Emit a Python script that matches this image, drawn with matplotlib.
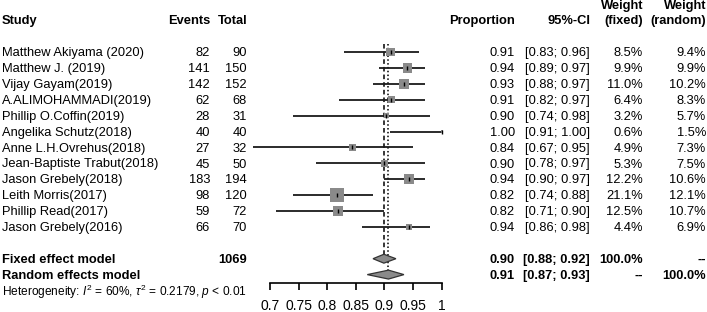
import numpy as np
import matplotlib
matplotlib.use("Agg")
import matplotlib.pyplot as plt
from matplotlib.patches import Polygon

plt.rcParams['font.family'] = ['Liberation Sans', 'DejaVu Sans']
plt.rcParams['mathtext.fontset'] = 'custom'
plt.rcParams['mathtext.rm'] = 'Liberation Sans'
plt.rcParams['mathtext.it'] = 'Liberation Sans:italic'

# data
studies = ["Matthew Akiyama (2020)", "Matthew J. (2019)", "Vijay Gayam(2019)",
           "A.ALIMOHAMMADI(2019)", "Phillip O.Coffin(2019)", "Angelika Schutz(2018)",
           "Anne L.H.Ovrehus(2018)", "Jean-Baptiste Trabut(2018)", "Jason Grebely(2018)",
           "Leith Morris(2017)", "Phillip Read(2017)", "Jason Grebely(2016)"]
events = [82, 141, 142, 62, 28, 40, 27, 45, 183, 98, 59, 66]
totals = [90, 150, 152, 68, 31, 40, 32, 50, 194, 120, 72, 70]
prop = [0.911, 0.940, 0.934, 0.912, 0.903, 1.000, 0.844, 0.900, 0.943, 0.817, 0.819, 0.943]
ci_lo = [0.83, 0.89, 0.88, 0.82, 0.74, 0.91, 0.67, 0.78, 0.90, 0.74, 0.71, 0.86]
ci_hi = [0.96, 0.97, 0.97, 0.97, 0.98, 1.00, 0.95, 0.97, 0.97, 0.88, 0.90, 0.98]
w_fixed = [8.5, 9.9, 11.0, 6.4, 3.2, 0.6, 4.9, 5.3, 12.2, 21.1, 12.5, 4.4]
w_random = [9.4, 9.9, 10.2, 8.3, 5.7, 1.5, 7.3, 7.5, 10.6, 12.1, 10.7, 6.9]
fixed_est, fixed_lo, fixed_hi = 0.899, 0.88, 0.92
random_est, random_lo, random_hi = 0.907, 0.87, 0.934
total_n = 1069
ticks = [0.7, 0.75, 0.8, 0.85, 0.9, 0.95, 1.0]
tick_labels = ["0.7", "0.75", "0.8", "0.85", "0.9", "0.95", "1"]

W, H = 707, 312
fig = plt.figure(figsize=(W / 100, H / 100), dpi=100)

# text layer in pixel coords
tx = fig.add_axes([0, 0, 1, 1])
tx.set_xlim(0, W)
tx.set_ylim(H, 0)
tx.axis('off')

row0 = 52.0
dy = 15.9
def ypix(r):
    return row0 + dy * r

def ytxt(r):
    return ypix(r) + 1.2

fs = 9.3
col_events, col_total = 210, 247
col_prop, col_ci, col_wf, col_wr = 515, 590, 643, 706

hy = ytxt(-2)
hb = dict(fontsize=fs, fontweight='bold', va='center')
tx.text(2, hy, "Study", ha='left', **hb)
tx.text(col_events, hy, "Events", ha='right', **hb)
tx.text(col_total, hy, "Total", ha='right', **hb)
tx.text(col_prop, hy, "Proportion", ha='right', **hb)
tx.text(col_ci, hy, "95%-CI", ha='right', **hb)
tx.text(col_wf, hy, "(fixed)", ha='right', **hb)
tx.text(col_wr, hy, "(random)", ha='right', **hb)
tx.text(col_wf, 6.5, "Weight", ha='right', **hb)
tx.text(col_wr, 6.5, "Weight", ha='right', **hb)

for i, name in enumerate(studies):
    y = ytxt(i)
    tx.text(2, y, name, fontsize=fs, va='center', ha='left')
    tx.text(col_events, y, str(events[i]), fontsize=fs, va='center', ha='right')
    tx.text(col_total, y, str(totals[i]), fontsize=fs, va='center', ha='right')
    tx.text(col_prop, y, "%.2f" % prop[i], fontsize=fs, va='center', ha='right')
    tx.text(col_ci, y, "[%.2f; %.2f]" % (ci_lo[i], ci_hi[i]), fontsize=fs, va='center', ha='right')
    tx.text(col_wf, y, "%.1f%%" % w_fixed[i], fontsize=fs, va='center', ha='right')
    tx.text(col_wr, y, "%.1f%%" % w_random[i], fontsize=fs, va='center', ha='right')

n = len(studies)
yf = ytxt(n + 1)
yr = ytxt(n + 2)
tx.text(2, yf, "Fixed effect model", ha='left', **hb)
tx.text(col_total, yf, str(total_n), ha='right', **hb)
tx.text(col_prop, yf, "%.2f" % fixed_est, ha='right', **hb)
tx.text(col_ci, yf, "[%.2f; %.2f]" % (fixed_lo, fixed_hi), ha='right', **hb)
tx.text(col_wf, yf, "100.0%", ha='right', **hb)
tx.text(col_wr, yf, "--", ha='right', **hb)
tx.text(2, yr, "Random effects model", ha='left', **hb)
tx.text(col_prop, yr, "%.2f" % random_est, ha='right', **hb)
tx.text(col_ci, yr, "[%.2f; %.2f]" % (random_lo, 0.93), ha='right', **hb)
tx.text(col_wf, yr, "--", ha='right', **hb)
tx.text(col_wr, yr, "100.0%", ha='right', **hb)
tx.text(2, ytxt(n + 3), r"Heterogeneity: $I^2$ = 60%, $\tau^2$ = 0.2179, $p$ < 0.01",
        fontsize=8.55, va='center', ha='left')

# forest panel
x0, x1 = 270, 441.7
ax_top, ax_bot = 36, 283.3
r_top = (ax_top - row0) / dy
r_bot = (ax_bot - row0) / dy
ax = fig.add_axes([x0 / W, (H - ax_bot) / H, (x1 - x0) / W, (ax_bot - ax_top) / H])
ax.set_xlim(0.7, 1.0)
ax.set_ylim(r_bot, r_top)
ax.patch.set_visible(False)
for s in ['top', 'left', 'right']:
    ax.spines[s].set_visible(False)
ax.spines['bottom'].set_linewidth(1.2)
ax.set_yticks([])
ax.set_xticks(ticks)
ax.set_xticklabels(tick_labels, fontsize=10)
ax.tick_params(axis='x', length=5, width=1.2, pad=6.5)

rows = np.arange(n)
ax.hlines(rows, ci_lo, ci_hi, color='#1a1a1a', lw=1.3, clip_on=False, zorder=2)
side_px = 13.5 * np.sqrt(np.array(w_fixed) / max(w_fixed))
ax.scatter(prop, rows, marker='s', s=(side_px * 0.72) ** 2, color='#8a8a8a',
           edgecolors='none', clip_on=False, zorder=3)
ax.scatter(prop, rows, marker='|', s=12, color='black', linewidths=1.0, clip_on=False, zorder=4)

ax.vlines(fixed_est, -0.5, n + 1, colors='black', linestyles=(0, (3, 2)), lw=1.1, zorder=1)
ax.vlines(random_est, -0.5, n + 2, colors='black', linestyles=(0, (1, 1.5)), lw=1.1, zorder=1)

dh = 0.28
for est, lo, hi, r in [(fixed_est, fixed_lo, fixed_hi, n + 1), (random_est, random_lo, random_hi, n + 2)]:
    ax.add_patch(Polygon([[lo, r], [est, r - dh], [hi, r], [est, r + dh]], closed=True,
                         facecolor='#8a8a8a', edgecolor='#333333', lw=0.9, zorder=5, clip_on=False))

fig.savefig("out.png", dpi=100)
